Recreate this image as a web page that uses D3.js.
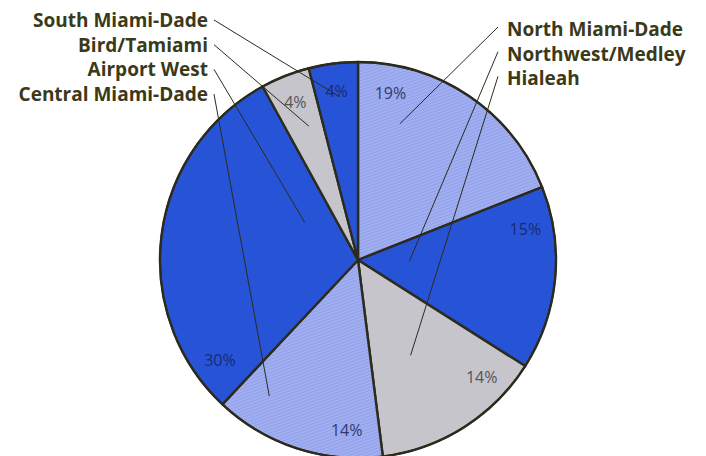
<!DOCTYPE html>
<html>
<head>
<meta charset="utf-8">
<script src="https://cdn.jsdelivr.net/npm/d3@7"></script>
<style>
  html, body { margin: 0; padding: 0; background: #ffffff; }
  svg { display: block; }
</style>
</head>
<body>
<svg id="chart" width="706" height="456"></svg>
<script>
// Share of cases by region, clockwise from 12 o'clock
const regions = ["North Miami-Dade", "Northwest/Medley", "Hialeah", "Central Miami-Dade",
                 "Airport West", "Bird/Tamiami", "South Miami-Dade"];
const shares = [19, 15, 14, 14, 30, 4, 4];
const shadeKeys = ["light", "dark", "gray", "light", "dark", "gray", "dark"];

// Label columns (top to bottom)
const rightLabels = ["North Miami-Dade", "Northwest/Medley", "Hialeah"];
const leftLabels = ["South Miami-Dade", "Bird/Tamiami", "Airport West", "Central Miami-Dade"];

// Where each leader line lands inside its slice: [fraction of slice sweep, fraction of radius]
const pointerAt = {
  "North Miami-Dade": [0.25, 0.72],
  "Northwest/Medley": [0.42, 0.26],
  "Hialeah": [0.57, 0.55],
  "Central Miami-Dade": [0.8, 0.82],
  "Airport West": [0.76, 0.33],
  "Bird/Tamiami": [0.6, 0.72],
  "South Miami-Dade": [0.55, 0.83]
};

const cx = 358, cy = 260, R = 198;
const ink = "#2c2b1d";
const labelInk = "#3a3918";

const svg = d3.select("#chart");
const defs = svg.append("defs");

// fine diagonal screen on the light-blue slices
const pat = defs.append("pattern")
  .attr("id", "lightScreen")
  .attr("patternUnits", "userSpaceOnUse")
  .attr("width", 3).attr("height", 3)
  .attr("patternTransform", "rotate(-20)");
pat.append("rect").attr("width", 3).attr("height", 3).attr("fill", "#a1aff2");
pat.append("line").attr("x1", 0).attr("y1", 0.5).attr("x2", 3).attr("y2", 0.5)
  .attr("stroke", "#8e9ce6").attr("stroke-width", 0.8);

const fills = {
  light: "url(#lightScreen)",
  dark: "#2754d7",
  gray: "#c5c5cb"
};
const pctInk = {
  light: "#303b6c",
  dark: "#1b2974",
  gray: "#555558"
};

const color = d3.scaleOrdinal().domain(regions).range(shadeKeys.map(k => fills[k]));

const data = regions.map((r, i) => ({ region: r, share: shares[i], shade: shadeKeys[i] }));

const pie = d3.pie().value(d => d.share).sort(null).startAngle(0).endAngle(2 * Math.PI);
const arcs = pie(data);
const arc = d3.arc().innerRadius(0).outerRadius(R);

const g = svg.append("g").attr("transform", `translate(${cx},${cy})`);

g.selectAll("path.slice")
  .data(arcs)
  .join("path")
  .attr("class", "slice")
  .attr("d", arc)
  .attr("fill", d => color(d.data.region))
  .attr("stroke", ink)
  .attr("stroke-width", 2.4)
  .attr("stroke-linejoin", "round");

// outer rim
g.append("circle").attr("r", R).attr("fill", "none").attr("stroke", ink).attr("stroke-width", 1.8);

const polar = (a, r) => [r * Math.sin(a), -r * Math.cos(a)];

// percentage labels: near the leading edge of each slice
const pctR = R * 0.86;
const lead = 11 * Math.PI / 180;
g.selectAll("text.pct")
  .data(arcs)
  .join("text")
  .attr("class", "pct")
  .attr("transform", d => {
    const span = d.endAngle - d.startAngle;
    const a = d.startAngle + Math.min(span / 2, lead);
    const [x, y] = polar(a, pctR);
    return `translate(${x},${y})`;
  })
  .attr("text-anchor", "middle")
  .attr("dominant-baseline", "central")
  .attr("font-family", "'Open Sans', 'Liberation Sans', sans-serif")
  .attr("font-size", 16)
  .attr("fill", d => pctInk[d.data.shade])
  .text(d => d.data.share + "%");

// region labels with leader lines
const labelFont = "'Open Sans', 'Liberation Sans', sans-serif";
const byRegion = new Map(arcs.map(d => [d.data.region, d]));

function pointerEnd(region) {
  const d = byRegion.get(region);
  const [t, f] = pointerAt[region];
  const a = d.startAngle + t * (d.endAngle - d.startAngle);
  const [x, y] = polar(a, f * R);
  return [cx + x, cy + y];
}

const leaders = svg.append("g")
  .attr("fill", "none")
  .attr("stroke", ink)
  .attr("stroke-width", 1);

const leftX = 208, rightX = 507, top0 = 27, rowGap = 24.7;

function addLabel(name, x, y, anchor) {
  svg.append("text")
    .attr("x", x).attr("y", y)
    .attr("text-anchor", anchor)
    .attr("font-family", labelFont)
    .attr("font-weight", 700)
    .attr("font-size", 19)
    .attr("fill", labelInk)
    .text(name);
}

leftLabels.forEach((name, i) => {
  const y = top0 + i * rowGap;
  addLabel(name, leftX, y, "end");
  const [ex, ey] = pointerEnd(name);
  leaders.append("line")
    .attr("x1", leftX + 6).attr("y1", y - 7)
    .attr("x2", ex).attr("y2", ey);
});

rightLabels.forEach((name, i) => {
  const y = top0 + 9 + i * rowGap;
  addLabel(name, rightX, y, "start");
  const [ex, ey] = pointerEnd(name);
  leaders.append("line")
    .attr("x1", rightX - 9).attr("y1", y - 9)
    .attr("x2", ex).attr("y2", ey);
});
</script>
</body>
</html>
